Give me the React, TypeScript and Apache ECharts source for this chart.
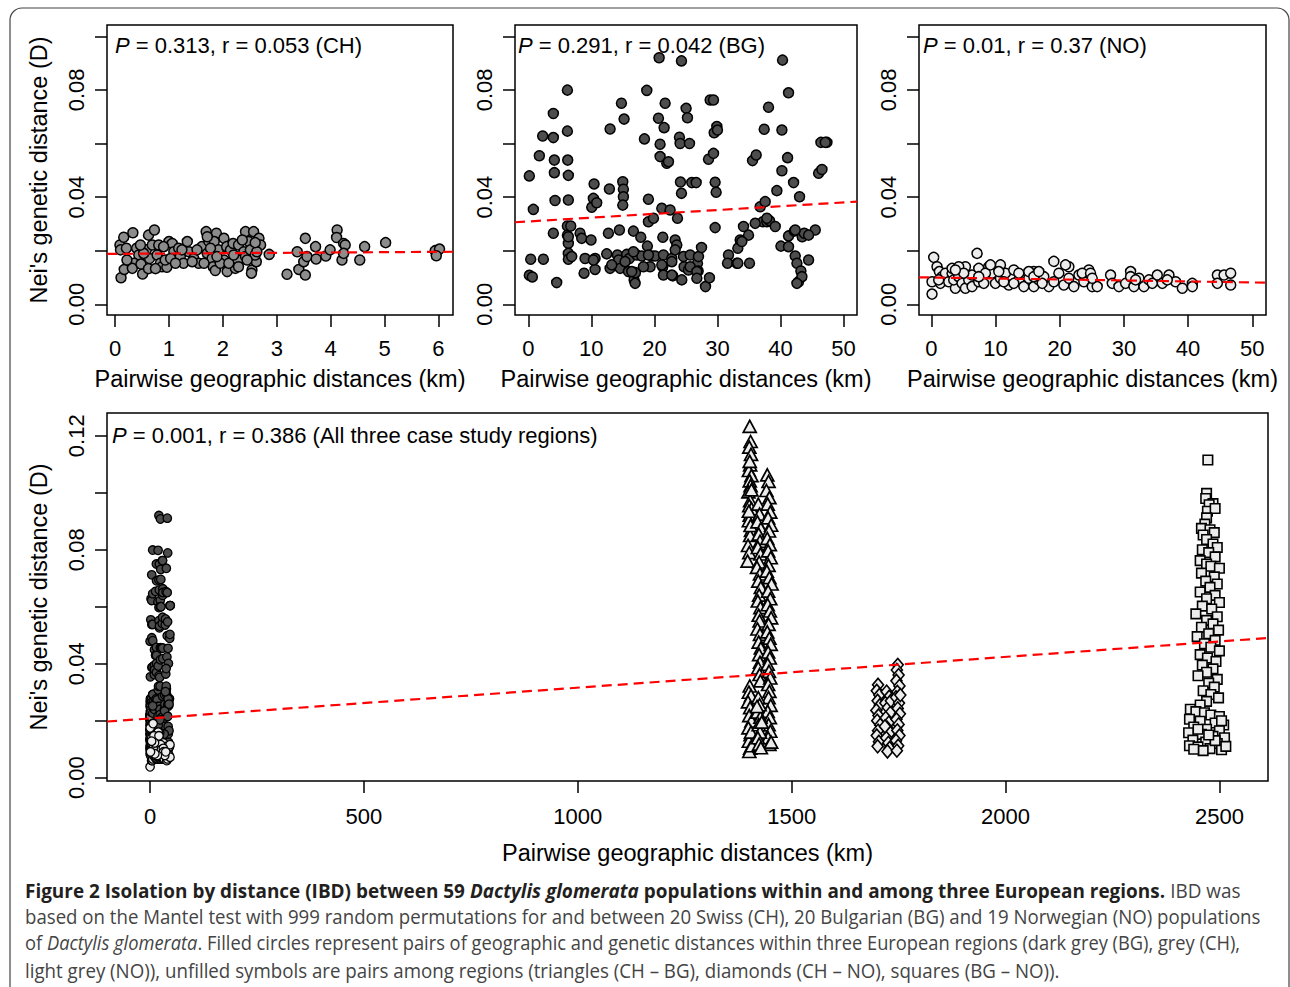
import React, { useEffect, useRef } from "react";
import * as echarts from "echarts";

// ---------- DATA (km, Nei's D) ----------
const chPairs: number[][] = [
  [0.11, 0.0099], [0.17, 0.013], [0.09, 0.0221], [0.16, 0.025], [0.33, 0.0267], [0.1, 0.0203], [0.21, 0.0209], [0.4, 0.0209],
  [0.44, 0.0184], [0.35, 0.0153], [0.32, 0.0134], [0.51, 0.0113], [0.48, 0.015], [0.62, 0.0133], [0.64, 0.0171], [0.58, 0.0203],
  [0.62, 0.0258], [0.73, 0.0277], [0.69, 0.0221], [0.81, 0.0221], [0.78, 0.0184], [0.84, 0.0153], [0.87, 0.014], [0.96, 0.0138],
  [0.93, 0.0165], [1.0, 0.0234], [1.06, 0.0227], [1.09, 0.0196], [1.18, 0.0209], [1.21, 0.0178], [1.27, 0.0153], [1.34, 0.0234],
  [1.37, 0.0196], [1.46, 0.0171], [1.55, 0.0153], [1.61, 0.0215], [1.69, 0.0271], [1.74, 0.0234], [1.71, 0.019], [1.8, 0.0171],
  [1.82, 0.014], [1.86, 0.0126], [1.88, 0.0265], [1.84, 0.0234], [1.92, 0.0203], [2.02, 0.0246], [2.02, 0.0165], [2.07, 0.0215],
  [2.08, 0.0122], [2.14, 0.0203], [2.19, 0.0227], [2.23, 0.0134], [2.28, 0.0165], [2.29, 0.0221], [2.39, 0.0196], [2.42, 0.0271],
  [2.42, 0.0178], [2.48, 0.0234], [2.51, 0.0203], [2.57, 0.0271], [2.54, 0.0128], [2.53, 0.0116], [2.62, 0.0159], [2.67, 0.0246],
  [2.7, 0.0221], [2.6, 0.0184], [2.86, 0.0186], [3.19, 0.0112], [3.38, 0.0196], [3.41, 0.013], [3.53, 0.0246], [3.5, 0.0159],
  [3.53, 0.0109], [3.56, 0.0178], [3.72, 0.0215], [3.73, 0.0169], [3.91, 0.018], [3.99, 0.0203], [4.12, 0.0277], [4.11, 0.0249],
  [4.21, 0.0165], [4.24, 0.0227], [4.27, 0.0221], [4.24, 0.019], [4.54, 0.0165], [4.63, 0.0215], [5.02, 0.023], [5.94, 0.02],
  [6.02, 0.0206], [5.96, 0.0181], [0.53, 0.019], [1.03, 0.0171], [1.24, 0.0203], [1.52, 0.0203], [1.43, 0.0159], [1.65, 0.0153],
  [1.77, 0.0209], [1.95, 0.0153], [2.11, 0.0153], [2.29, 0.014], [2.45, 0.0165], [2.63, 0.0196], [0.22, 0.0165], [0.47, 0.0221],
  [0.9, 0.0215], [1.12, 0.0153], [0.75, 0.0133], [2.2, 0.0184], [1.89, 0.0178], [1.71, 0.0252], [2.36, 0.024], [2.6, 0.023],
];

const bgPairs: number[][] = [
  [0.16, 0.0479], [0.16, 0.0108], [0.64, 0.0102], [0.8, 0.0354], [0.38, 0.0168], [1.75, 0.0554], [2.39, 0.0168], [2.28, 0.0628],
  [3.97, 0.0712], [3.97, 0.0622], [4.13, 0.0538], [4.13, 0.0491], [4.24, 0.0387], [3.97, 0.0265], [4.5, 0.0081], [6.2, 0.0799],
  [6.2, 0.0646], [6.25, 0.0538], [6.35, 0.0481], [6.35, 0.0389], [6.2, 0.0292], [6.2, 0.0258], [6.35, 0.0227], [6.35, 0.019],
  [6.35, 0.0168], [6.73, 0.0292], [6.88, 0.0178], [8.21, 0.0265], [8.47, 0.0246], [8.84, 0.0116], [9.0, 0.0171], [9.95, 0.024],
  [10.06, 0.0362], [10.32, 0.0395], [10.43, 0.0449], [10.59, 0.0171], [10.59, 0.013], [10.85, 0.0379], [12.44, 0.0188], [12.7, 0.0265],
  [12.86, 0.043], [12.97, 0.0134], [12.97, 0.0654], [14.13, 0.0184], [14.45, 0.0277], [14.34, 0.0165], [14.56, 0.0134], [14.77, 0.075],
  [14.98, 0.0457], [15.08, 0.0429], [15.08, 0.0401], [14.98, 0.037], [15.19, 0.0691], [15.61, 0.0186], [15.88, 0.0122], [16.04, 0.0171],
  [16.67, 0.0273], [16.78, 0.0091], [16.94, 0.0078], [16.99, 0.0118], [17.2, 0.0184], [17.84, 0.025], [18.0, 0.018], [18.42, 0.0617],
  [18.79, 0.0798], [19.05, 0.0392], [18.89, 0.0217], [19.05, 0.0308], [19.32, 0.014], [19.58, 0.018], [19.85, 0.0321], [20.11, 0.018],
  [20.75, 0.092], [20.64, 0.0694], [20.9, 0.0597], [20.9, 0.0551], [21.17, 0.0358], [21.33, 0.025], [21.43, 0.0184], [21.7, 0.075],
  [21.54, 0.0659], [21.96, 0.0526], [22.23, 0.0532], [21.33, 0.014], [21.43, 0.0109], [22.49, 0.0352], [22.76, 0.0171], [22.92, 0.0106],
  [23.29, 0.024], [23.55, 0.0221], [23.66, 0.0321], [23.97, 0.0623], [24.08, 0.06], [24.13, 0.0456], [24.29, 0.0908], [24.29, 0.0414],
  [24.61, 0.0178], [24.71, 0.014], [25.03, 0.0731], [25.24, 0.0696], [25.4, 0.0128], [25.56, 0.06], [25.67, 0.0184], [25.93, 0.0454],
  [26.62, 0.0454], [26.83, 0.0153], [26.94, 0.0124], [26.99, 0.0178], [27.47, 0.0212], [28.1, 0.0066], [28.58, 0.0541], [28.73, 0.0099],
  [28.84, 0.0762], [29.37, 0.0762], [29.37, 0.0563], [29.48, 0.064], [29.63, 0.0455], [29.79, 0.0418], [29.9, 0.0663], [30.0, 0.065],
  [29.63, 0.0286], [31.75, 0.0184], [31.59, 0.0153], [33.07, 0.0153], [33.23, 0.0209], [33.6, 0.024], [34.13, 0.029], [34.93, 0.0258],
  [35.08, 0.0153], [35.56, 0.0536], [36.14, 0.0557], [36.78, 0.0364], [37.2, 0.0308], [37.41, 0.0653], [37.84, 0.0308], [38.1, 0.0735],
  [38.26, 0.0312], [39.16, 0.029], [39.42, 0.0424], [40.06, 0.0217], [40.22, 0.065], [40.32, 0.0911], [40.22, 0.0498], [41.12, 0.0547],
  [41.27, 0.0789], [41.27, 0.0255], [42.07, 0.0454], [42.17, 0.0273], [42.33, 0.018], [42.6, 0.0153], [43.02, 0.0401], [43.44, 0.0252],
  [43.23, 0.0124], [42.86, 0.0084], [43.39, 0.0103], [44.45, 0.0165], [45.51, 0.0277], [46.04, 0.0489], [46.57, 0.0503], [46.41, 0.0604],
  [47.36, 0.0604], [47.1, 0.0604], [43.76, 0.0265], [15.35, 0.0159], [16.67, 0.0196], [19.05, 0.0184], [21.17, 0.0147], [22.76, 0.0109],
  [24.34, 0.0091], [25.67, 0.014], [26.73, 0.0122], [33.23, 0.0153], [33.87, 0.0234], [42.33, 0.0277], [44.45, 0.0258], [41.27, 0.0215],
  [42.6, 0.0078], [37.57, 0.0383], [37.84, 0.0321], [35.98, 0.0302], [6.35, 0.0252], [10.32, 0.0165], [13.23, 0.0147], [16.41, 0.0122],
  [18.26, 0.014], [22.76, 0.0159], [23.29, 0.0203], [26.73, 0.0097],
];

const noPairs: number[][] = [
  [0.36, 0.0175], [0.1, 0.0038], [0.1, 0.0084], [0.88, 0.014], [1.24, 0.0122], [1.66, 0.0103], [1.4, 0.0078], [2.18, 0.0116],
  [2.7, 0.0084], [3.22, 0.0116], [3.74, 0.006], [3.48, 0.0091], [4.26, 0.0103], [4.78, 0.0078], [5.3, 0.014], [5.3, 0.006],
  [5.82, 0.0091], [6.34, 0.0109], [6.34, 0.0066], [7.12, 0.019], [7.38, 0.0134], [7.38, 0.0084], [8.16, 0.0078], [8.94, 0.014],
  [9.46, 0.0116], [9.98, 0.0078], [10.76, 0.0147], [10.76, 0.0097], [11.54, 0.0116], [12.06, 0.0072], [12.84, 0.0128], [13.62, 0.0091],
  [13.62, 0.0116], [14.4, 0.0066], [15.18, 0.0097], [15.96, 0.0122], [15.96, 0.0066], [16.74, 0.0091], [17.52, 0.0103], [18.3, 0.0066],
  [19.08, 0.016], [19.08, 0.0084], [19.86, 0.0116], [20.64, 0.0072], [21.42, 0.014], [21.42, 0.0097], [22.2, 0.0066], [22.98, 0.0109],
  [23.76, 0.0084], [24.54, 0.0128], [25.06, 0.0066], [25.84, 0.0066], [27.92, 0.0109], [28.18, 0.0078], [29.22, 0.0066], [30.26, 0.0078],
  [31.04, 0.0122], [31.56, 0.0066], [32.34, 0.0097], [33.12, 0.0066], [33.9, 0.0091], [35.2, 0.0109], [35.98, 0.0078], [37.02, 0.0109],
  [38.06, 0.0084], [39.1, 0.006], [40.66, 0.0078], [40.66, 0.0066], [44.56, 0.0109], [44.56, 0.0078], [45.6, 0.0109], [46.64, 0.0116],
  [46.64, 0.0072], [3.22, 0.0134], [4.26, 0.014], [5.04, 0.0116], [8.42, 0.0116], [9.2, 0.0147], [12.84, 0.0078], [15.18, 0.0122],
  [15.96, 0.0103], [16.74, 0.0122], [20.9, 0.0147], [23.5, 0.0116], [24.8, 0.0116], [25.06, 0.0097], [31.04, 0.0103], [31.82, 0.0091],
  [34.42, 0.0078], [36.76, 0.0091], [7.38, 0.0103], [10.5, 0.0122], [17.26, 0.0078], [11.28, 0.0084], [1.14, 0.0091], [3.74, 0.0128],
];

const chBgPairs: number[][] = [
  [1402, 0.1233], [1404, 0.118], [1401, 0.116], [1405, 0.1135], [1403, 0.1098], [1400, 0.1078], [1406, 0.106], [1402, 0.1042],
  [1404, 0.1025], [1399, 0.1003], [1403, 0.0972], [1401, 0.0955], [1406, 0.0944], [1402, 0.0921], [1400, 0.0902], [1405, 0.0868],
  [1403, 0.085], [1398, 0.0815], [1401, 0.079], [1397, 0.076], [1404, 0.0885], [1400, 0.0935], [1406, 0.101], [1402, 0.111],
  [1422, 0.096], [1425, 0.0925], [1420, 0.0898], [1428, 0.0874], [1423, 0.0855], [1426, 0.083], [1421, 0.0808], [1427, 0.0785],
  [1424, 0.0757], [1419, 0.0738], [1426, 0.0715], [1422, 0.069], [1428, 0.0668], [1424, 0.0641], [1421, 0.062], [1427, 0.0597],
  [1423, 0.057], [1425, 0.055], [1420, 0.0522], [1426, 0.0503], [1423, 0.0476], [1428, 0.0455], [1424, 0.0432], [1426, 0.0405],
  [1422, 0.0385], [1425, 0.0362], [1427, 0.034],
  [1443, 0.1063], [1446, 0.104], [1441, 0.1008], [1448, 0.0983], [1444, 0.096], [1450, 0.0932], [1445, 0.0912], [1452, 0.0886],
  [1447, 0.0866], [1443, 0.084], [1449, 0.0818], [1445, 0.0796], [1451, 0.0772], [1446, 0.0745], [1442, 0.0725], [1448, 0.0702],
  [1453, 0.068], [1445, 0.0655], [1450, 0.0628], [1444, 0.0607], [1449, 0.0585], [1452, 0.0561], [1446, 0.0538], [1443, 0.0512],
  [1448, 0.049], [1451, 0.0468], [1445, 0.0441], [1449, 0.042], [1444, 0.0398], [1447, 0.0373], [1450, 0.035], [1445, 0.0327],
  [1448, 0.0303], [1446, 0.0281], [1451, 0.0254], [1444, 0.0233], [1449, 0.0211], [1446, 0.0186], [1450, 0.0163], [1445, 0.014],
  [1448, 0.0117], [1452, 0.0125],
  [1402, 0.0322], [1400, 0.03], [1405, 0.0288], [1398, 0.0266], [1403, 0.0246], [1401, 0.0218], [1406, 0.0199], [1399, 0.0175],
  [1404, 0.0151], [1400, 0.0128], [1403, 0.0104], [1401, 0.0092], [1407, 0.0112], [1405, 0.016],
  [1422, 0.0281], [1425, 0.0256], [1420, 0.023], [1427, 0.0212], [1423, 0.0186], [1426, 0.016], [1421, 0.014], [1424, 0.0118],
  [1428, 0.0105], [1419, 0.025], [1430, 0.0195],
];

const chNoPairs: number[][] = [
  [1702, 0.0326], [1699, 0.0305], [1705, 0.029], [1701, 0.027], [1706, 0.0254], [1698, 0.0236], [1703, 0.0218], [1700, 0.02],
  [1707, 0.0185], [1702, 0.0165], [1699, 0.0148], [1704, 0.0126], [1701, 0.011],
  [1722, 0.0302], [1728, 0.0284], [1719, 0.0262], [1725, 0.0246], [1731, 0.0228], [1720, 0.021], [1727, 0.0193], [1723, 0.0176],
  [1730, 0.0158], [1721, 0.014], [1726, 0.0122], [1729, 0.0104], [1724, 0.0092], [1732, 0.027], [1718, 0.018],
  [1748, 0.0396], [1746, 0.0378], [1750, 0.036], [1745, 0.034], [1752, 0.0322], [1747, 0.0301], [1744, 0.0282], [1751, 0.0262],
  [1748, 0.0243], [1753, 0.0224], [1745, 0.0205], [1750, 0.0187], [1747, 0.0166], [1752, 0.0148], [1744, 0.013], [1749, 0.0112],
  [1746, 0.0095], [1754, 0.029],
];

const bgNoPairs: number[][] = [
  [2473, 0.1115],
  [2470, 0.0998], [2468, 0.098], [2485, 0.0962], [2476, 0.0958], [2472, 0.0935], [2490, 0.0945], [2470, 0.0912], [2466, 0.089],
  [2458, 0.0875], [2478, 0.087], [2488, 0.086], [2462, 0.0852], [2470, 0.0836],
  [2485, 0.082], [2495, 0.0808], [2460, 0.08], [2475, 0.079], [2490, 0.0775], [2455, 0.0762], [2470, 0.075], [2480, 0.0742],
  [2500, 0.0735], [2458, 0.0718], [2488, 0.0705], [2468, 0.069], [2495, 0.068], [2478, 0.0668], [2455, 0.0652], [2490, 0.064],
  [2470, 0.0628], [2500, 0.0615], [2460, 0.0602], [2482, 0.0592], [2445, 0.0575], [2495, 0.0565], [2470, 0.0552], [2485, 0.054],
  [2458, 0.0528], [2498, 0.0518], [2475, 0.0505], [2448, 0.0495], [2490, 0.0482], [2465, 0.047], [2480, 0.0458], [2500, 0.0445],
  [2455, 0.0432], [2472, 0.042], [2492, 0.0408], [2460, 0.0395], [2485, 0.0382], [2470, 0.037], [2450, 0.0358], [2495, 0.0345],
  [2475, 0.0332], [2488, 0.0318], [2462, 0.0305], [2480, 0.0292], [2498, 0.028], [2470, 0.0268], [2455, 0.0255],
  [2432, 0.024], [2445, 0.0232], [2465, 0.0228], [2480, 0.022], [2500, 0.0215], [2430, 0.0205], [2455, 0.0198], [2490, 0.0192],
  [2510, 0.0185], [2440, 0.0178], [2470, 0.017], [2500, 0.0165], [2428, 0.0158], [2458, 0.0152], [2485, 0.0145], [2512, 0.014],
  [2438, 0.0132], [2468, 0.0125], [2495, 0.012], [2430, 0.0112], [2450, 0.0108], [2478, 0.0102], [2505, 0.0098], [2515, 0.011],
  [2462, 0.0095], [2440, 0.01], [2490, 0.013], [2450, 0.017], [2505, 0.02], [2475, 0.015],
];

// Mantel regression lines: [intercept, slope]
const lineCH = [0.01882, 0.000125];
const lineBG = [0.0309, 0.000142];
const lineNO = [0.01, -0.0000372];
const lineAll = [0.0208, 0.0000108];

// Axis ranges and tick values
const xRangeCH = [-0.15, 6.27];
const xRangeRegion = [-2.11, 52.13];
const xRangeNO = [-1.93, 52.14];
const xRangeAll = [-100.6, 2613.6];
const yRangeTop = [-0.004, 0.1042];
const yRangeAll = [-0.00116, 0.128];

const xTicksCH = [0, 1, 2, 3, 4, 5, 6];
const xTicksRegion = [0, 10, 20, 30, 40, 50];
const xTicksAll = [0, 500, 1000, 1500, 2000, 2500];
const yTicksTop = [0, 0.02, 0.04, 0.06, 0.08, 0.1];
const yLabelsTop = [0, 0.04, 0.08];
const yTicksAll = [0, 0.02, 0.04, 0.06, 0.08, 0.1, 0.12];
const yLabelsAll = [0, 0.04, 0.08, 0.12];

const annotations = [
  { p: "P", rest: " = 0.313, r = 0.053 (CH)" },
  { p: "P", rest: " = 0.291, r = 0.042 (BG)" },
  { p: "P", rest: " = 0.01, r = 0.37 (NO)" },
  { p: "P", rest: " = 0.001, r = 0.386 (All three case study regions)" },
];

const xTitle = "Pairwise geographic distances (km)";
const yTitle = "Nei's genetic distance (D)";

// caption lines: [style, text]
const captionLines: [string, string][][] = [
  [["b", "Figure 2 Isolation by distance (IBD) between 59 "], ["bi", "Dactylis glomerata"], ["b", " populations within and among three European regions."], ["r", " IBD was"]],
  [["r", "based on the Mantel test with 999 random permutations for and between 20 Swiss (CH), 20 Bulgarian (BG) and 19 Norwegian (NO) populations"]],
  [["r", "of "], ["ri", "Dactylis glomerata"], ["r", ". Filled circles represent pairs of geographic and genetic distances within three European regions (dark grey (BG), grey (CH),"]],
  [["r", "light grey (NO)), unfilled symbols are pairs among regions (triangles (CH \u2013 BG), diamonds (CH \u2013 NO), squares (BG \u2013 NO))."]],
];
const captionWidths = [1216, 1236, 1216, 1034];

// ---------- STYLE ----------
const FONT = '"Liberation Sans", Arial, Helvetica, sans-serif';
const CAP_FONT = '"Open Sans", "Liberation Sans", sans-serif';
const CAP_SIZE = 20;
const TICK_SIZE = 22;
const TITLE_SIZE = 23.5;

function regLine(c: number[], r: number[]) {
  return [
    [r[0], c[0] + c[1] * r[0]],
    [r[1], c[0] + c[1] * r[1]],
  ];
}

function xAxis(gridIndex: number, r: number[], ticks: number[], margin: number, nameGap: number) {
  return {
    type: "value",
    gridIndex,
    min: r[0],
    max: r[1],
    axisLine: { show: false, onZero: false },
    axisTick: { show: true, inside: false, length: 12, customValues: ticks, lineStyle: { color: "#000", width: 1.5 } },
    axisLabel: { customValues: ticks, formatter: (v: number) => String(v), margin, color: "#000", fontSize: TICK_SIZE, fontFamily: FONT },
    splitLine: { show: false },
    name: xTitle,
    nameLocation: "middle",
    nameGap,
    nameTextStyle: { color: "#000", fontSize: TITLE_SIZE, fontFamily: FONT },
  };
}

function yAxis(gridIndex: number, r: number[], ticks: number[], labels: number[], withName: boolean) {
  return {
    type: "value",
    gridIndex,
    min: r[0],
    max: r[1],
    axisLine: { show: false, onZero: false },
    axisTick: { show: true, inside: false, length: 12, customValues: ticks, lineStyle: { color: "#000", width: 1.5 } },
    axisLabel: {
      customValues: labels,
      formatter: (v: number) => v.toFixed(2),
      rotate: 90,
      margin: 20,
      color: "#000",
      fontSize: TICK_SIZE,
      fontFamily: FONT,
    },
    splitLine: { show: false },
    name: withName ? yTitle : "",
    nameLocation: "middle",
    nameGap: 56,
    nameTextStyle: { color: "#000", fontSize: TITLE_SIZE, fontFamily: FONT },
  };
}

function scatter(xi: number, data: number[][], fill: string, symbol: string, size: any, bw = 1.5) {
  return {
    type: "scatter",
    xAxisIndex: xi,
    yAxisIndex: xi,
    data,
    symbol,
    symbolSize: size,
    silent: true,
    itemStyle: { color: fill, borderColor: "#000", borderWidth: bw, opacity: 1 },
    z: 2,
  };
}

function line(xi: number, data: number[][]) {
  return {
    type: "line",
    xAxisIndex: xi,
    yAxisIndex: xi,
    data,
    symbol: "none",
    silent: true,
    lineStyle: { color: "#ff0000", width: 2.2, type: [10, 6] },
    z: 5,
  };
}

function measure(ctx: CanvasRenderingContext2D, segs: [string, string][]) {
  let w = 0;
  for (const [st, t] of segs) {
    const weight = st.startsWith("b") ? "bold " : "";
    const ital = st.endsWith("i") ? "italic " : "";
    ctx.font = `${ital}${weight}${CAP_SIZE}px ${CAP_FONT}`;
    w += ctx.measureText(t).width;
  }
  return w;
}

export default function App() {
  const ref = useRef<HTMLDivElement>(null);
  useEffect(() => {
    if (!ref.current) return;
    const chart = echarts.init(ref.current, undefined, { renderer: "svg" });
    const ctx = document.createElement("canvas").getContext("2d") as CanvasRenderingContext2D;

    const grids = [
      { left: 107, top: 25, width: 346, height: 290 },
      { left: 515, top: 25, width: 342, height: 290 },
      { left: 919, top: 25, width: 347, height: 290 },
      { left: 107, top: 413, width: 1161, height: 368 },
    ].map((g) => ({ ...g, show: true, borderColor: "#000", borderWidth: 1.5, backgroundColor: "transparent", containLabel: false }));

    const annPos = [
      [115, 45],
      [518, 45],
      [923, 45],
      [112, 435],
    ];
    const annRich = {
      i: { fontStyle: "italic", fontSize: 22, fontFamily: FONT, fill: "#000" },
      n: { fontSize: 22, fontFamily: FONT, fill: "#000" },
    };
    const annGraphics = annotations.map((a, k) => ({
      type: "text",
      x: annPos[k][0],
      y: annPos[k][1],
      z: 10,
      style: { text: `{i|${a.p}}{n|${a.rest}}`, rich: annRich, verticalAlign: "middle", align: "left" },
    }));

    const capRich = {
      b: { fontWeight: "bold", fontSize: CAP_SIZE, fontFamily: CAP_FONT, fill: "#231f20" },
      bi: { fontWeight: "bold", fontStyle: "italic", fontSize: CAP_SIZE, fontFamily: CAP_FONT, fill: "#231f20" },
      r: { fontSize: CAP_SIZE, fontFamily: CAP_FONT, fill: "#444444" },
      ri: { fontStyle: "italic", fontSize: CAP_SIZE, fontFamily: CAP_FONT, fill: "#444444" },
    };
    const capY = [890, 916, 943, 970];
    const capGraphics = captionLines.map((segs, k) => {
      const w = measure(ctx, segs);
      return {
        type: "text",
        x: 25,
        y: capY[k],
        scaleX: captionWidths[k] / w,
        style: { text: segs.map(([s, t]) => `{${s}|${t}}`).join(""), rich: capRich, verticalAlign: "middle", align: "left" },
      };
    });

    chart.setOption({
      animation: false,
      textStyle: { fontFamily: FONT },
      grid: grids,
      xAxis: [
        xAxis(0, xRangeCH, xTicksCH, 22, 52),
        xAxis(1, xRangeRegion, xTicksRegion, 22, 52),
        xAxis(2, xRangeNO, xTicksRegion, 22, 52),
        xAxis(3, xRangeAll, xTicksAll, 24, 60),
      ],
      yAxis: [
        yAxis(0, yRangeTop, yTicksTop, yLabelsTop, true),
        yAxis(1, yRangeTop, yTicksTop, yLabelsTop, false),
        yAxis(2, yRangeTop, yTicksTop, yLabelsTop, false),
        yAxis(3, yRangeAll, yTicksAll, yLabelsAll, true),
      ],
      series: [
        scatter(0, chPairs, "#8c8c8c", "circle", 10),
        line(0, regLine(lineCH, xRangeCH)),
        scatter(1, bgPairs, "#4d4d4d", "circle", 10),
        line(1, regLine(lineBG, xRangeRegion)),
        scatter(2, noPairs, "#ececec", "circle", 10),
        line(2, regLine(lineNO, xRangeNO)),
        scatter(3, chPairs, "#8c8c8c", "circle", 8.5, 1.3),
        scatter(3, bgPairs, "#4d4d4d", "circle", 8.5, 1.3),
        scatter(3, noPairs, "#ececec", "circle", 8.5, 1.3),
        scatter(3, chBgPairs, "#ececec", "triangle", [13, 12], 1.7),
        scatter(3, chNoPairs, "#ececec", "diamond", [11, 13], 1.6),
        scatter(3, bgNoPairs, "#ececec", "rect", [9.5, 9.5], 1.6),
        line(3, regLine(lineAll, xRangeAll)),
      ],
      graphic: [
        {
          type: "rect",
          z: -1,
          shape: { x: 10, y: 8, width: 1279, height: 1010, r: 12 },
          style: { fill: "none", stroke: "#444", lineWidth: 1.2 },
        },
        ...annGraphics,
        ...capGraphics,
      ],
    });
    return () => chart.dispose();
  }, []);

  return (
    <div
      ref={ref}
      style={{ position: "absolute", left: 0, top: 0, width: 1290, height: 987, background: "#fff" }}
    />
  );
}
